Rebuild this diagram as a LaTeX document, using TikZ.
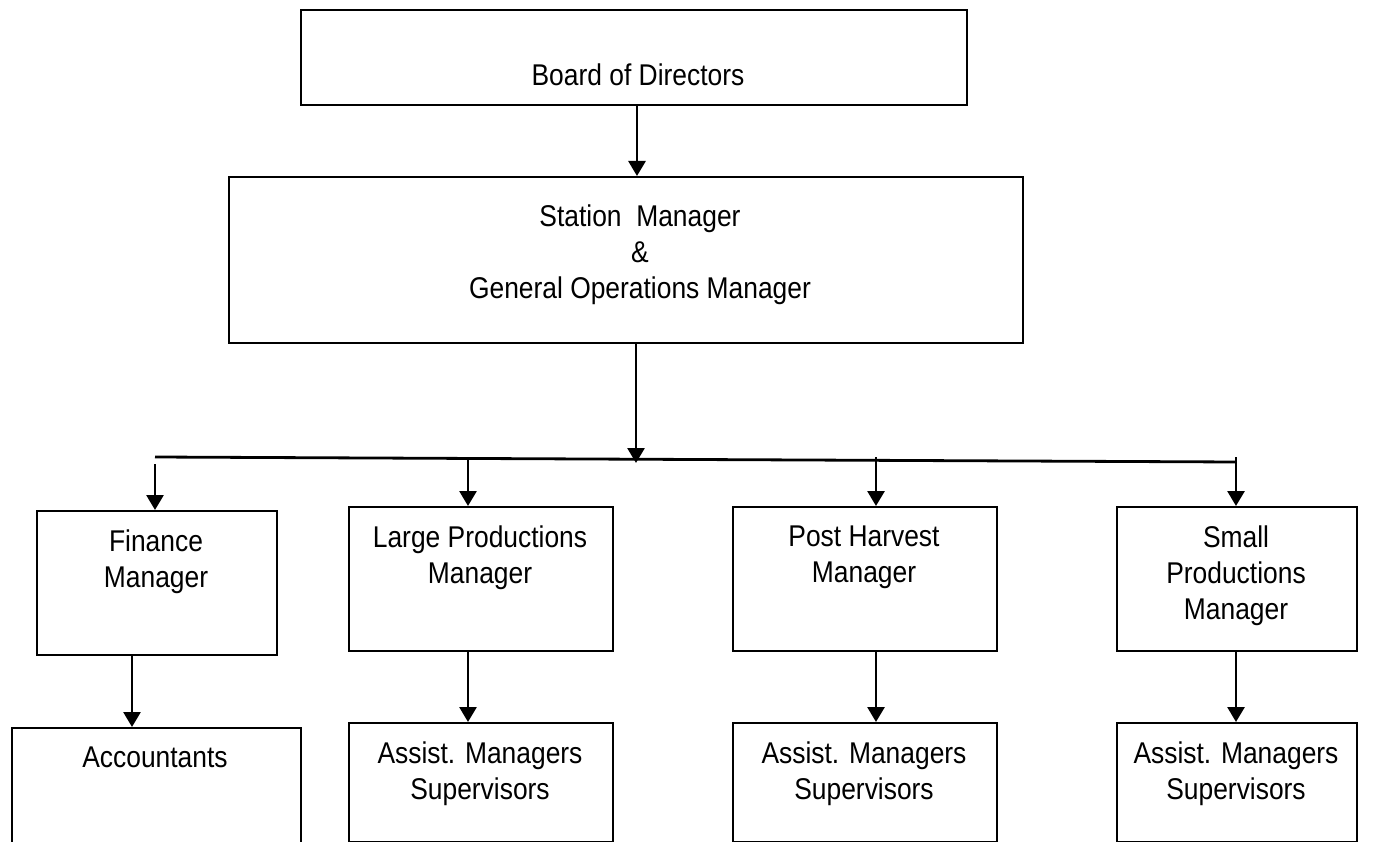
\documentclass[tikz,border=0pt]{standalone}
\usepackage{fontspec}
\setmainfont{Liberation Sans}[FakeStretch=0.88]
\usetikzlibrary{arrows.meta}
\begin{document}
\begin{tikzpicture}[x=1pt,y=-1pt,
  box/.style={draw=black, line width=2.4pt, rectangle, inner sep=0pt, anchor=north west},
  lbl/.style={inner sep=0pt, anchor=north, align=center, font=\fontsize{30pt}{36pt}\selectfont},
  arr/.style={line width=2.8pt, -{Triangle[width=17pt,length=15pt]}},
  ln/.style={line width=2.8pt}]
\useasboundingbox (0,0) rectangle (1387,842);
\clip (0,0) rectangle (1387,842);
% boxes
\node[box, minimum width=666pt, minimum height=95pt] (board) at (300,9) {};
\node[box, minimum width=794pt, minimum height=166pt] (station) at (228,176) {};
\node[box, minimum width=240pt, minimum height=144pt] (finance) at (36,510) {};
\node[box, minimum width=264pt, minimum height=144pt] (large) at (348,506) {};
\node[box, minimum width=264pt, minimum height=144pt] (post) at (732,506) {};
\node[box, minimum width=240pt, minimum height=144pt] (small) at (1116,506) {};
\node[box, minimum width=289pt, minimum height=130pt] (acc) at (11,727) {};
\node[box, minimum width=264pt, minimum height=119pt] (as1) at (348,722) {};
\node[box, minimum width=264pt, minimum height=119pt] (as2) at (732,722) {};
\node[box, minimum width=240pt, minimum height=119pt] (as3) at (1116,722) {};
% texts
\node[lbl] (tboard) at (638,64) {Board of Directors};
\node[lbl] (tstation) at (640,205) {Station\ \ Manager\\\&\\General Operations Manager};
\node[lbl] (tfinance) at (156,530) {Finance\\Manager};
\node[lbl] (tlarge) at (480,526) {Large Productions\\Manager};
\node[lbl] (tpost) at (864,526) {Post Harvest\\Manager};
\node[lbl] (tsmall) at (1236,526) {Small\\Productions\\Manager};
\node[lbl] (tacc) at (155,747) {Accountants};
\node[lbl] (tas1) at (480,742) {Assist. Managers\\Supervisors};
\node[lbl] (tas2) at (864,742) {Assist. Managers\\Supervisors};
\node[lbl] (tas3) at (1236,742) {Assist. Managers\\Supervisors};
% connector coordinates
\coordinate (x1) at (637,0);
\coordinate (x2) at (636,0);
\coordinate (hl) at (155,457);
\coordinate (hr) at (1236,462);
\coordinate (dF) at (155,464);
\coordinate (dL) at (468,458.5);
\coordinate (dP) at (876,457);
\coordinate (dS) at (1236,457);
\coordinate (tip) at (636,463);
\coordinate (xa) at (132,0);
% connectors
\draw[arr] (board.south -| x1) -- (station.north -| x1);
\draw[arr] (station.south -| x2) -- (tip);
\draw[ln] (hl) -- (hr);
\draw[arr] (dF) -- (finance.north -| dF);
\draw[arr] (dL) -- (large.north -| dL);
\draw[arr] (dP) -- (post.north -| dP);
\draw[arr] (dS) -- (small.north -| dS);
\draw[arr] (finance.south -| xa) -- (acc.north -| xa);
\draw[arr] (large.south -| dL) -- (as1.north -| dL);
\draw[arr] (post.south -| dP) -- (as2.north -| dP);
\draw[arr] (small.south -| dS) -- (as3.north -| dS);
\end{tikzpicture}
\end{document}
